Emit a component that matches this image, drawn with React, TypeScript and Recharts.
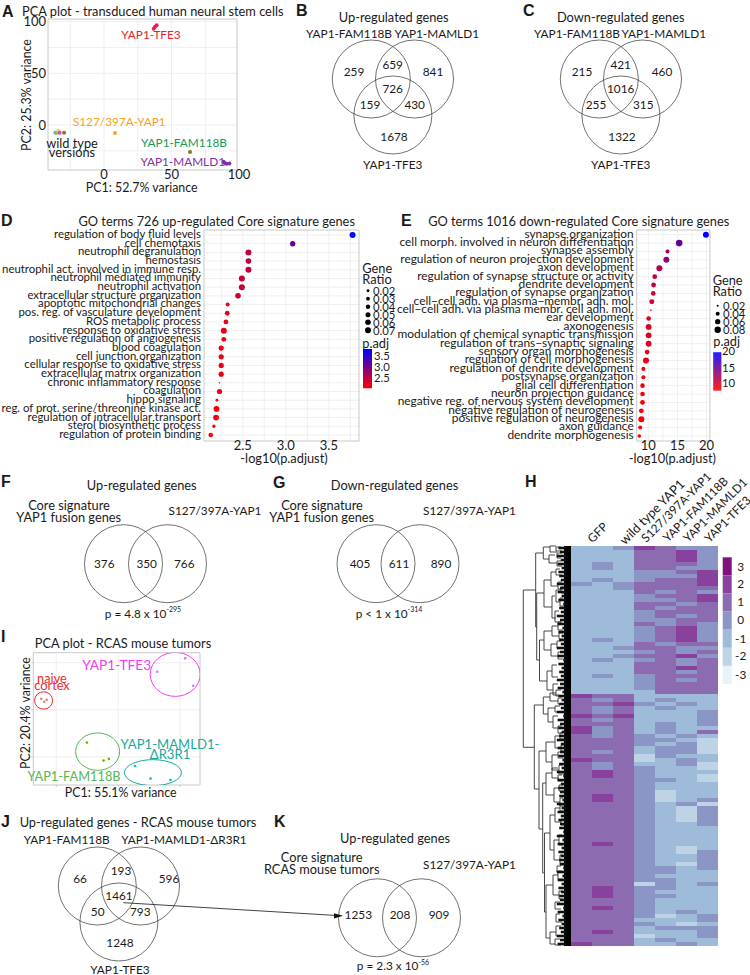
import React from 'react';
import {
  ScatterChart, Scatter, BarChart, Bar, Cell, XAxis, YAxis, ZAxis, CartesianGrid,
  ReferenceArea, ReferenceDot, ReferenceLine,
} from 'recharts';

const FONT = 'Lato, "Open Sans", sans-serif';
const BOLD = '"Liberation Sans", Arial, sans-serif';
const INK = '#1a1a1a';

/* ---------- Panel A ---------- */
const aGroups = [
  { name: 'YAP1-TFE3', color: '#ee1c4e', pc1: [36.8, 37.8, 39], pc2: [93, 95, 96.5] },
  { name: 'S127/397A-YAP1', color: '#f9a11b', pc1: [8.1], pc2: [-7.7] },
  { name: 'GFP', color: '#4fb3bf', pc1: [-36], pc2: [-7.5] },
  { name: 'wild type a', color: '#8bc34a', pc1: [-35], pc2: [-7.5] },
  { name: 'wild type b', color: '#d7e04a', pc1: [-34], pc2: [-5.5] },
  { name: 'wild type c', color: '#e646c8', pc1: [-32.9], pc2: [-7.5] },
  { name: 'wild type d', color: '#a5683a', pc1: [-29.6], pc2: [-7.5] },
  { name: 'YAP1-FAM118B', color: '#7a7a1a', pc1: [63.7], pc2: [-26.1] },
  { name: 'YAP1-MAMLD1', color: '#7f2fa8', pc1: [88.6, 89.6, 90.8, 92.8], pc2: [-35.5, -37, -37.5, -37.3] },
];

/* ---------- Panel D ---------- */
const dTerms = [
  'regulation of body fluid levels', 'cell chemotaxis', 'neutrophil degranulation', 'hemostasis',
  'neutrophil act. involved in immune resp.', 'neutrophil mediated immunity', 'neutrophil activation',
  'extracellular structure organization', 'apoptotic mitochondrial changes', 'pos. reg. of vasculature development',
  'ROS metabolic process', 'response to oxidative stress', 'positive regulation of angiogenesis', 'blood coagulation',
  'cell junction organization', 'cellular response to oxidative stress', 'extracellular matrix organization',
  'chronic inflammatory response', 'coagulation', 'hippo signaling', 'reg. of prot. serine/threonine kinase act.',
  'regulation of intracellular transport', 'sterol biosynthetic process', 'regulation of protein binding',
];
const dLogP = [3.775, 3.08, 2.566, 2.566, 2.566, 2.49, 2.49, 2.445, 2.325, 2.32, 2.305, 2.28, 2.28, 2.25, 2.25, 2.25, 2.25, 2.23, 2.23, 2.2, 2.195, 2.19, 2.165, 2.128];
const dRatio = [0.07, 0.057, 0.07, 0.061, 0.07, 0.07, 0.07, 0.061, 0.033, 0.046, 0.046, 0.07, 0.046, 0.053, 0.053, 0.053, 0.053, 0.008, 0.053, 0.018, 0.065, 0.065, 0.025, 0.043];

/* ---------- Panel E ---------- */
const eTerms = [
  'synapse organization', 'cell morph. involved in neuron differentiation', 'synapse assembly',
  'regulation of neuron projection development', 'axon development', 'regulation of synapse structure or activity',
  'dendrite development', 'regulation of synapse organization', 'cell\u2212cell adh. via plasma\u2212membr. adh. mol.',
  'cell\u2212cell adh. via plasma membr. cell adh. mol.', 'ear development', 'axonogenesis',
  'modulation of chemical synaptic transmission', 'regulation of trans\u2212synaptic signaling', 'sensory organ morphogenesis',
  'regulation of cell morphogenesis', 'regulation of dendrite development', 'postsynapse organization',
  'glial cell differentiation', 'neuron projection guidance', 'negative reg. of nervous system development',
  'negative regulation of neurogenesis', 'positive regulation of neurogenesis', 'axon guidance', 'dendrite morphogenesis',
];
const eLogP = [19.9, 15.3, 13.3, 13.1, 11.9, 11.1, 10.9, 10.85, 10.6, 10.45, 10.05, 10.05, 10.05, 10.05, 9.8, 9.6, 9.15, 9.15, 9, 9, 9, 8.8, 8.8, 8.6, 8.45];
const eRatio = [0.0725, 0.085, 0.04, 0.0725, 0.0725, 0.051, 0.051, 0.048, 0.054, 0.0177, 0.048, 0.069, 0.069, 0.069, 0.051, 0.0725, 0.04, 0.04, 0.048, 0.048, 0.051, 0.051, 0.0725, 0.04, 0.035];

/* ---------- Panel I ---------- */
const iGroups = [
  { name: 'naive cortex', color: '#f8766d', pc1: [-62.1, -59.7, -57.7], pc2: [11.7, 8.5, 10.6] },
  { name: 'YAP1-TFE3', color: '#c77cff', pc1: [31.5, 54, 60.5], pc2: [40.4, 54.6, 25.5] },
  { name: 'YAP1-FAM118B', color: '#7cae00', pc1: [-25.2, -11.8, -7.5], pc2: [-34.8, -53.9, -52.1] },
  { name: 'YAP1-MAMLD1', color: '#00bfc4', pc1: [13.7, 26.1, 42.2], pc2: [-59.6, -73, -74.5] },
];
const iEllipses = [
  { pc1: -60.2, pc2: 9.9, rx: 9, ry: 8.7, color: '#ee2a2a' },
  { pc1: 46, pc2: 37.6, rx: 25, ry: 22, color: '#f53cf0' },
  { pc1: -16.6, pc2: -44.4, rx: 22, ry: 18.7, color: '#55b84f' },
  { pc1: 28, pc2: -66.7, rx: 28.5, ry: 13, color: '#1aa89e' },
];

/* ---------- Venn counts ---------- */
const bCounts = ['259', '659', '841', '726', '159', '430', '1678'];
const cCounts = ['215', '421', '460', '1016', '255', '315', '1322'];
const jCounts = ['66', '193', '596', '1461', '50', '793', '1248'];
const fCounts = ['376', '350', '766'];
const gCounts = ['405', '611', '890'];
const kCounts = ['1253', '208', '909'];

/* ---------- Panel H ---------- */
const hColumns = ['GFP 1', 'GFP 2', 'GFP 3', 'S127/397A-YAP1', 'YAP1-FAM118B', 'YAP1-MAMLD1', 'YAP1-TFE3'];
const hRows = [
  'bbcedcc', 'bbbddec', 'bbbddec', 'bbbddec', 'bcbdddc', 'bcbddcc', 'bbbccde', 'bbbccce', 'bcbcdde', 'cbcddde',
  'bbcdddd', 'bbbdcdc', 'bbbcdde', 'bbbccde', 'bbbddcd', 'bbbdcdd', 'bbbcddd', 'bbbcdcd', 'bbbccdd', 'bbbdcdc',
  'bbbcdec', 'bbbcdec', 'bbbcdec', 'bcbcdec', 'bbbdcdd', 'bbcddcc', 'bbbcdcd', 'bbcddec', 'bcbcdcd', 'bbbddcd',
  'bbbdded', 'bbbddcd', 'bcbcddd', 'bbbcdcd', 'bbbcddd', 'bbbcddd', 'bbbbddd', 'eddbbbb', 'dcdbcbb', 'ddecbcb',
  'dcdbcbb', 'dcdbbbc', 'edebbbc', 'dcdbbbc', 'dddbcbc', 'ecdbcbb', 'ecdbcbd', 'dcdcbcb', 'dddccba', 'dddcbca',
  'dddbcca', 'dcdbcca', 'dddacbb', 'eddabcb', 'dcdbbca', 'dcdcbba', 'dedcbbb', 'dedcbba', 'dddccba', 'dddcbbb',
  'dddcbbb', 'dddcabb', 'dedcabb', 'dedcabc', 'dddcbca', 'dddcbac', 'dddcbac', 'dddcbac', 'dddcbac', 'dddcbbc',
  'dddcbbb', 'dddcbbb', 'dddcbbb', 'dddcbbb', 'dedcbbb', 'dddcbab', 'dddcbac', 'dddcbbc', 'dddcbbc', 'dddcbac',
  'dddccbc', 'dddccbb', 'dddcbbb', 'dddccbb', 'dddacbc', 'dedccbb', 'dedcbbb', 'dedccbb', 'dddcbbb', 'dddcbbb',
  'dedcbbb', 'dddcbcb', 'dddcabc', 'dddbbbc', 'dddcbab', 'dddbccc', 'dedbbbc', 'dddabbc', 'dddbcbb', 'eddbbcb',
];
const hLevels: Record<string, string> = { a: '#bfd3e6', b: '#9ebcda', c: '#8c96c6', d: '#8c6bb1', e: '#88419d' };
const hLegendValues = ['3', '2', '1', '0', '-1', '-2', '-3'];
const hLegendColors = ['#810f7c', '#88419d', '#8c6bb1', '#8c96c6', '#9ebcda', '#bfd3e6', '#e8f4f8'];
const hData = hColumns.map((col) => {
  const row: Record<string, any> = { col };
  hRows.forEach((_, i) => { row['r' + i] = 1; });
  return row;
});

/* dendrogram brackets: trunk, first join, second join, first child, second child */
const dendro = [
  [523.3, 590, 747.3, 535.7, 534.3],
  [535.7, 553, 627, 543.3, 536.7],
  [543.3, 547, 559, 550, 549],
  [550, 546, 552, 556, 557],
  [549, 555, 563, 555, 557],
  [536.7, 593, 660, 544, 539.5],
  [544, 580, 607, 551, 552],
  [551, 572, 586, 556, 558],
  [552, 596, 618, 555, 556],
  [556, 590, 602, 561, 560],
  [539.5, 640, 681, 544, 547],
  [544, 631, 650, 552, 551],
  [552, 626, 636, 558, 559],
  [551, 644, 656, 557, 558],
  [547, 671, 690, 552, 553],
  [534.3, 705, 789, 543.3, 539],
  [543.3, 697, 714, 550, 548],
  [550, 693, 701, 556, 558],
  [548, 708, 722, 555, 553],
  [539, 751, 829, 546, 542.7],
  [546, 742, 762, 555, 552],
  [555, 736, 748, 560, 561],
  [552, 755, 770, 558, 559],
  [542.7, 783, 873, 546, 544.5],
  [546, 773, 795, 552, 554],
  [552, 768, 778, 558, 559],
  [554, 788, 802, 559, 560],
  [544.5, 833, 912, 550, 546],
  [550, 815, 850, 555, 554],
  [555, 808, 822, 560, 561],
  [554, 840, 860, 559, 560],
  [546, 885, 938, 553, 550],
  [553, 875, 895, 558, 559],
  [550, 932, 944, 556, 555],
  [556, 547, 551, 561, 562], [557, 553, 558, 562, 561], [557, 561, 566, 561, 562], [556, 569, 575, 560, 562],
  [558, 582, 589, 562, 563], [561, 587, 593, 564, 564], [560, 598, 606, 563, 564], [555, 611, 622, 559, 561],
  [558, 622, 630, 562, 563], [559, 633, 639, 563, 563], [557, 641, 648, 561, 562], [558, 652, 659, 562, 563],
  [552, 665, 677, 557, 558], [553, 684, 695, 558, 559], [556, 690, 696, 561, 562], [558, 698, 704, 562, 563],
  [555, 706, 712, 560, 561], [553, 716, 728, 558, 559], [558, 726, 733, 562, 563], [560, 733, 739, 563, 564],
  [561, 745, 751, 564, 564], [558, 752, 758, 562, 563], [559, 765, 774, 563, 564], [558, 775, 781, 562, 563],
  [559, 785, 791, 563, 564], [560, 798, 806, 563, 564], [560, 804, 811, 563, 564], [561, 819, 825, 564, 564],
  [559, 835, 845, 562, 563], [560, 855, 865, 563, 564], [557, 866, 872, 561, 562], [558, 871, 879, 562, 563],
  [559, 891, 899, 563, 563], [555, 902, 909, 560, 561], [556, 914, 922, 560, 562], [556, 926, 936, 561, 562],
  [555, 939, 945, 560, 561],
];
const leafStarts = '3516273461527394615283746152937461528374619253741625384719263548172635491827364591827364519283746152';

/* ---------- colour scales ---------- */
const redBlue = (t: number) => {
  const c = Math.max(0, Math.min(1, t));
  return `rgb(${Math.round(255 * (1 - c))},0,${Math.round(255 * c)})`;
};

/* ---------- positions of text on the page ---------- */
type L = { t: string; x: number; y: number; s?: number; c?: string; a?: string; r?: number; b?: boolean; sup?: string };
const labels: L[] = [
  { t: 'A', x: 2, y: 11, s: 16, b: true, a: 'start' },
  { t: 'B', x: 296, y: 10, s: 16, b: true, a: 'start' },
  { t: 'C', x: 523, y: 10, s: 16, b: true, a: 'start' },
  { t: 'D', x: 1, y: 220.7, s: 16, b: true, a: 'start' },
  { t: 'E', x: 401, y: 220.7, s: 16, b: true, a: 'start' },
  { t: 'F', x: 1, y: 481.7, s: 16, b: true, a: 'start' },
  { t: 'G', x: 273, y: 482, s: 16, b: true, a: 'start' },
  { t: 'H', x: 525, y: 481.7, s: 16, b: true, a: 'start' },
  { t: 'I', x: 1, y: 636.7, s: 16, b: true, a: 'start' },
  { t: 'J', x: 1, y: 821.7, s: 16, b: true, a: 'start' },
  { t: 'K', x: 274, y: 821.7, s: 16, b: true, a: 'start' },

  { t: 'PCA plot - transduced human neural stem cells', x: 22, y: 11, a: 'start' },
  { t: 'YAP1-TFE3', x: 151, y: 34.3, c: '#ee1c2e' },
  { t: 'S127/397A-YAP1', x: 119.3, y: 121.7, c: '#f9a11b' },
  { t: 'wild type', x: 72, y: 143 },
  { t: 'versions', x: 72, y: 152.3 },
  { t: 'YAP1-FAM118B', x: 184, y: 142.7, c: '#0f9d58' },
  { t: 'YAP1-MAMLD1', x: 182.7, y: 161.7, c: '#7f2fa8' },
  { t: 'PC1: 52.7% variance', x: 141.7, y: 187.3 },
  { t: 'PC2: 25.3% variance', x: 26, y: 95, r: -90 },

  { t: 'Up-regulated genes', x: 393.7, y: 16.7 },
  { t: 'YAP1-FAM118B', x: 349, y: 33 },
  { t: 'YAP1-MAMLD1', x: 436.7, y: 33 },
  { t: 'YAP1-TFE3', x: 392.7, y: 164 },
  { t: 'Down-regulated genes', x: 620.7, y: 17 },
  { t: 'YAP1-FAM118B', x: 577, y: 33 },
  { t: 'YAP1-MAMLD1', x: 663.7, y: 33 },
  { t: 'YAP1-TFE3', x: 620.7, y: 164 },

  { t: 'GO terms 726 up-regulated Core signature genes', x: 216.7, y: 220.7 },
  { t: '-log10(p.adjust)', x: 284, y: 457.7 },
  { t: 'Gene', x: 362.3, y: 268.3, a: 'start' },
  { t: 'Ratio', x: 362.3, y: 279, a: 'start' },
  { t: '0.02', x: 373, y: 290.7, a: 'start' },
  { t: '0.03', x: 373, y: 298.7, a: 'start' },
  { t: '0.04', x: 373, y: 306.7, a: 'start' },
  { t: '0.05', x: 373, y: 314.7, a: 'start' },
  { t: '0.06', x: 373, y: 322.3, a: 'start' },
  { t: '0.07', x: 373, y: 330.3, a: 'start' },
  { t: 'p.adj', x: 362.3, y: 343, a: 'start' },
  { t: '3.5', x: 374, y: 355, a: 'start' },
  { t: '3.0', x: 374, y: 366, a: 'start' },
  { t: '2.5', x: 374, y: 377, a: 'start' },

  { t: 'GO terms 1016 down-regulated Core signature genes', x: 578.7, y: 220.7 },
  { t: '-log10(p.adjust)', x: 672.3, y: 457.7 },
  { t: 'Gene', x: 712.7, y: 280.3, a: 'start' },
  { t: 'Ratio', x: 712.7, y: 291, a: 'start' },
  { t: '0.02', x: 723, y: 305.7, a: 'start' },
  { t: '0.04', x: 723, y: 313.7, a: 'start' },
  { t: '0.06', x: 723, y: 321.7, a: 'start' },
  { t: '0.08', x: 723, y: 329.7, a: 'start' },
  { t: 'p.adj', x: 713.3, y: 340.7, a: 'start' },
  { t: '20', x: 722, y: 350.7, a: 'start' },
  { t: '15', x: 722, y: 367, a: 'start' },
  { t: '10', x: 722, y: 382.3, a: 'start' },

  { t: 'Up-regulated genes', x: 141.7, y: 485.3 },
  { t: 'Core signature', x: 69, y: 505 },
  { t: 'YAP1 fusion genes', x: 68.7, y: 517 },
  { t: 'S127/397A-YAP1', x: 215, y: 510.7 },
  { t: 'p = 4.8 x 10', x: 143, y: 613.3, sup: '-295' },
  { t: 'Down-regulated genes', x: 394.5, y: 485.3 },
  { t: 'Core signature', x: 322, y: 505 },
  { t: 'YAP1 fusion genes', x: 321.7, y: 517 },
  { t: 'S127/397A-YAP1', x: 469.5, y: 510.7 },
  { t: 'p < 1 x 10', x: 389, y: 613.3, sup: '-314' },

  { t: 'GFP', x: 597.3, y: 532.3, r: -45 },
  { t: 'wild type YAP1', x: 651.7, y: 511.7, r: -45 },
  { t: 'S127/397A-YAP1', x: 676, y: 507, r: -45 },
  { t: 'YAP1-FAM118B', x: 695.3, y: 509.3, r: -45 },
  { t: 'YAP1-MAMLD1', x: 715, y: 510, r: -45 },
  { t: 'YAP1-TFE3', x: 727.3, y: 519, r: -45 },

  { t: 'PCA plot - RCAS mouse tumors', x: 123, y: 642.7 },
  { t: 'YAP1-TFE3', x: 116.7, y: 664.3, c: '#f53cf0', s: 13.7 },
  { t: 'naive', x: 52, y: 678, c: '#ee2a2a' },
  { t: 'cortex', x: 52, y: 685.3, c: '#ee2a2a' },
  { t: 'YAP1-MAMLD1-', x: 170, y: 744.3, c: '#1aa89e', s: 13.1 },
  { t: '\u0394R3R1', x: 170, y: 754, c: '#1aa89e', s: 13.1 },
  { t: 'YAP1-FAM118B', x: 74, y: 775.7, c: '#55b84f', s: 12.8 },
  { t: 'PC1: 55.1% variance', x: 120.7, y: 792.3 },
  { t: 'PC2: 20.4% variance', x: 25, y: 713, r: -90 },

  { t: 'Up-regulated genes - RCAS mouse tumors', x: 138, y: 822.3 },
  { t: 'YAP1-FAM118B', x: 66.7, y: 839.3 },
  { t: 'YAP1-MAMLD1-\u0394R3R1', x: 184, y: 839.3 },
  { t: 'YAP1-TFE3', x: 120, y: 969 },
  { t: 'Up-regulated genes', x: 395, y: 838.3 },
  { t: 'Core signature', x: 321.7, y: 857.3 },
  { t: 'RCAS mouse tumors', x: 321.7, y: 869 },
  { t: 'S127/397A-YAP1', x: 469.5, y: 864 },
  { t: 'p = 2.3 x 10', x: 393, y: 965.7, sup: '-56' },
];

const venn3 = (base: number[], counts: string[], off: number[][]) => ({
  circles: [[base[0], base[1]], [base[0] + 43.2, base[1]], [base[0] + 21.6, base[1] + 36]],
  texts: counts.map((t, i) => ({ t, x: base[0] + off[i][0], y: base[1] + off[i][1] })),
});
const venn2 = (base: number[], counts: string[], off: number[], dy: number) => ({
  circles: [[base[0], base[1]], [base[0] + 44, base[1]]],
  texts: counts.map((t, i) => ({ t, x: base[0] + off[i], y: base[1] + dy })),
});
const offB = [[-17.3, -7.3], [21.4, -14.7], [61.7, -7.3], [21.4, 9], [-1.3, 25.7], [43.4, 25.7], [22.7, 57.3]];
const offC = [[-17.3, -7.3], [21.4, -15], [62.7, -8], [21.4, 9], [-3.3, 25.7], [44, 25.7], [22.7, 57]];
const offJ = [[-17.3, -7.7], [23.7, -15.3], [71.7, -8], [21.7, 9], [0.4, 25], [43, 25], [22.7, 56.7]];
const venns = [
  venn3([371.3, 79], bCounts, offB),
  venn3([599.3, 79], cCounts, offC),
  venn3([97.3, 886], jCounts, offJ),
  venn2([123.5, 563.7], fCounts, [-19.2, 23.2, 60.8], 0),
  venn2([376, 563.7], gCounts, [-16, 23, 65], 0),
  venn2([377.5, 917.8], kCounts, [-19.2, 22.5, 61.5], -3),
];
const vennCircles = venns.flatMap((v) => v.circles);
const vennTexts = venns.flatMap((v) => v.texts);

const dLegend = [0.02, 0.03, 0.04, 0.05, 0.06, 0.07].map((ratio, i) => ({ ratio, x: 368, y: [290.7, 298.7, 306.7, 314.7, 322.3, 330.3][i] }));
const eLegend = [0.02, 0.04, 0.06, 0.08].map((ratio, i) => ({ ratio, x: 717.7, y: [305.7, 313.7, 321.7, 329.7][i] }));

const sizeFor = (t: string) => {
  if (/^[\d.]+$/.test(t)) return 11.3;
  if (/^PC\d/.test(t)) return 12.4;
  if (/[a-z]{3}/.test(t)) return 12.8;
  return 11.8;
};

const TextShape = (p: any) => {
  const d = p.payload as L;
  const s = d.s ?? sizeFor(d.t);
  return (
    <text
      x={p.cx}
      y={p.cy}
      fontSize={s}
      fontFamily={d.b ? BOLD : FONT}
      fontWeight={d.b ? 700 : 400}
      fill={d.c ?? INK}
      textAnchor={(d.a as any) ?? 'middle'}
      dominantBaseline="central"
      transform={d.r ? `rotate(${d.r} ${p.cx} ${p.cy})` : undefined}
    >
      {d.t}
      {d.sup ? <tspan dy={-4} fontSize={7}>{d.sup}</tspan> : null}
    </text>
  );
};

const CountShape = (p: any) => (
  <text x={p.cx} y={p.cy} fontSize={11.8} fontFamily={FONT} fill={INK} textAnchor="middle" dominantBaseline="central">{p.payload.t}</text>
);

const Arrow = (p: any) => (
  <polygon points={`${p.cx},${p.cy} ${p.cx - 9},${p.cy - 2.6} ${p.cx - 9},${p.cy + 2.6}`} fill="#111" />
);

const EllipseShape = (p: any) => (
  <ellipse cx={p.cx} cy={p.cy} rx={p.payload.rx} ry={p.payload.ry} fill="none" stroke={p.payload.color} strokeWidth={1} />
);

const abs = (left: number, top: number): React.CSSProperties => ({ position: 'absolute', left, top });
const GRID = '#efefef';
const FRAME = '#c8c8c8';

function PanelA() {
  const xd: [number, number] = [-41.5, 98.5];
  const yd: [number, number] = [-43.5, 102.5];
  return (
    <div style={abs(0, 0)}>
      <ScatterChart width={260} height={200} margin={{ top: 19, left: 0, right: 23, bottom: 0 }}>
        <CartesianGrid stroke={GRID} horizontalValues={[-25, 0, 25, 50, 75, 100]} verticalValues={[-25, 0, 25, 50, 75]} />
        <XAxis type="number" dataKey="pc1" domain={xd} ticks={[0, 50, 100]} allowDataOverflow height={30} axisLine={false} tickLine={false} tickSize={0} tickMargin={0}
          tick={{ fontSize: 13, fontFamily: FONT, fill: INK }} interval={0} />
        <YAxis type="number" dataKey="pc2" domain={yd} ticks={[0, 50, 100]} allowDataOverflow width={48} axisLine={false} tickLine={false} tickSize={0} tickMargin={2}
          tick={{ fontSize: 13, fontFamily: FONT, fill: INK }} interval={0} />
        <ReferenceArea x1={xd[0]} x2={xd[1]} y1={yd[0]} y2={yd[1]} fill="none" stroke={FRAME} strokeWidth={1} fillOpacity={0} strokeOpacity={1} />
        {aGroups.map((g) => (
          <Scatter key={g.name} name={g.name} isAnimationActive={false} fill={g.color}
            data={g.pc1.map((pc1, i) => ({ pc1, pc2: g.pc2[i] }))}
            shape={(p: any) => <circle cx={p.cx} cy={p.cy} r={2} fill={g.color} />} />
        ))}
      </ScatterChart>
    </div>
  );
}

function DotPlot({ left, width, yWidth, terms, logp, ratio, xd, yd, xticks, minor, zd, zr, colorMin, colorMax, fmt, fontSize }: any) {
  const data = terms.map((term: string, i: number) => ({ term, row: i, logp: logp[i], ratio: ratio[i] }));
  const rows = terms.map((_: string, i: number) => i);
  const termTick = (p: any) => (
    <text x={p.x} y={p.y - 1.6} textAnchor="end" dominantBaseline="central" fontSize={fontSize} fontFamily={FONT} fill={INK}>
      {terms[p.payload.value]}
    </text>
  );
  return (
    <div style={abs(left, 225)}>
      <ScatterChart width={width} height={240} margin={{ top: 5, left: 0, right: 20, bottom: 0 }}>
        <CartesianGrid stroke={GRID} horizontalValues={rows} verticalValues={minor} />
        <XAxis type="number" dataKey="logp" domain={xd} ticks={xticks} allowDataOverflow height={24} axisLine={false} tickLine={false} tickSize={0} tickMargin={0} interval={0}
          tickFormatter={fmt} tick={{ fontSize: 13, fontFamily: FONT, fill: INK }} />
        <YAxis type="number" dataKey="row" reversed domain={yd} ticks={rows} allowDataOverflow width={yWidth} axisLine={false} tickLine={false} tickSize={0} tickMargin={3} interval={0}
          tick={termTick} />
        <ZAxis type="number" dataKey="ratio" domain={zd} range={zr} />
        <ReferenceArea x1={xd[0]} x2={xd[1]} y1={yd[0]} y2={yd[1]} fill="none" stroke={FRAME} strokeWidth={1} fillOpacity={0} strokeOpacity={1} />
        <Scatter data={data} isAnimationActive={false}>
          {data.map((d: any) => (
            <Cell key={d.term} fill={redBlue((d.logp - colorMin) / (colorMax - colorMin))} />
          ))}
        </Scatter>
      </ScatterChart>
    </div>
  );
}

function PanelI() {
  const xd: [number, number] = [-68.5, 66];
  const yd: [number, number] = [-79.8, 60.6];
  return (
    <div style={abs(0, 640)}>
      <ScatterChart width={230} height={170} margin={{ top: 12.7, left: 0, right: 30, bottom: 0 }}>
        <CartesianGrid stroke={GRID} horizontalValues={[-50, 0, 50]} verticalValues={[-50, 0, 50]} />
        <XAxis type="number" dataKey="pc1" domain={xd} ticks={[-50, 0, 50]} allowDataOverflow height={25} axisLine={false} tickSize={2} tickLine={{ stroke: FRAME }} tickFormatter={() => ''} />
        <YAxis type="number" dataKey="pc2" domain={yd} ticks={[-50, 0, 50]} allowDataOverflow width={33.3} axisLine={false} tickSize={2} tickLine={{ stroke: FRAME }} tickFormatter={() => ''} />
        <ReferenceArea x1={xd[0]} x2={xd[1]} y1={yd[0]} y2={yd[1]} fill="none" stroke={FRAME} strokeWidth={1} fillOpacity={0} strokeOpacity={1} />
        {iGroups.map((g) => (
          <Scatter key={g.name} name={g.name} isAnimationActive={false}
            data={g.pc1.map((pc1, i) => ({ pc1, pc2: g.pc2[i] }))}
            shape={(p: any) => <circle cx={p.cx} cy={p.cy} r={1.3} fill={g.color} />} />
        ))}
        <Scatter data={iEllipses} isAnimationActive={false} shape={EllipseShape} />
      </ScatterChart>
    </div>
  );
}

function Heatmap() {
  return (
    <div style={abs(571, 546)}>
      <BarChart width={147} height={400} data={hData} margin={{ top: 0, left: 0, right: 0, bottom: 0 }} barCategoryGap={0}>
        <XAxis dataKey="col" hide />
        <YAxis type="number" hide reversed domain={[0, hRows.length]} />
        {hRows.map((row, i) => (
          <Bar key={i} dataKey={'r' + i} stackId="heat" isAnimationActive={false} stroke="none">
            {hColumns.map((c, j) => <Cell key={c} fill={hLevels[row[j]]} />)}
          </Bar>
        ))}
      </BarChart>
    </div>
  );
}

const barBands = (x1: number, x2: number, y1: number, y2: number) => {
  const n = Math.round(y2 - y1);
  return Array.from({ length: n }, (_, i) => (
    <ReferenceArea key={`${x1}-${i}`} x1={x1} x2={x2} y1={y1 + i} y2={y1 + i + 1.3}
      fill={redBlue(1 - i / (n - 1))} fillOpacity={1} stroke="none" />
  ));
};

function Overlay() {
  const seg = dendro.flatMap(([x, y1, y2, c1, c2]) => [
    [x, y1, x, y2], [x, y1, c1, y1], [x, y2, c2, y2],
  ]);
  const leaves = hRows.map((_, i) => [556 + Number(leafStarts[i]) * 0.8, 548 + 4 * i, 566, 548 + 4 * i]);
  return (
    <div style={abs(0, 0)}>
      <ScatterChart width={750} height={975} margin={{ top: 0, left: 0, right: 0, bottom: 0 }}>
        <XAxis type="number" dataKey="x" domain={[0, 750]} hide allowDataOverflow />
        <YAxis type="number" dataKey="y" domain={[0, 975]} reversed hide allowDataOverflow />
        <ZAxis zAxisId="d" type="number" dataKey="ratio" domain={[0.0035, 0.08]} range={[0, 32.6]} />
        <ZAxis zAxisId="e" type="number" dataKey="ratio" domain={[0.0135, 0.09]} range={[0, 36.7]} />

        {vennCircles.map(([x, y], i) => (
          <ReferenceDot key={'c' + i} x={x} y={y} r={39} fill="none" stroke="#333" strokeWidth={0.7} />
        ))}

        <ReferenceLine segment={[{ x: 123.3, y: 902.7 }, { x: 335, y: 915.4 }]} stroke="#111" strokeWidth={0.8} />

        {seg.map(([a, b, c, d], i) => (
          <ReferenceLine key={'s' + i} segment={[{ x: a, y: b }, { x: c, y: d }]} stroke="#333" strokeWidth={0.9} />
        ))}
        {leaves.map(([a, b, c, d], i) => (
          <ReferenceLine key={'l' + i} segment={[{ x: a, y: b }, { x: c, y: d }]} stroke="#111" strokeWidth={2.6} />
        ))}
        <ReferenceArea x1={564} x2={571} y1={546} y2={946} fill="#000" fillOpacity={1} stroke="none" />

        {hLegendColors.map((c, i) => (
          <ReferenceArea key={'hl' + i} x1={722.7} x2={731.7} y1={557.3 + 18.1 * i} y2={557.3 + 18.1 * (i + 1)} fill={c} fillOpacity={1} stroke="none" />
        ))}
        {barBands(363, 372, 349, 388)}
        {barBands(713.3, 721.3, 352.3, 390.3)}

        <Scatter data={dLegend} zAxisId="d" fill="#000" isAnimationActive={false} />
        <Scatter data={eLegend} zAxisId="e" fill="#000" isAnimationActive={false} />
        <Scatter data={[{ x: 343, y: 915.8 }]} isAnimationActive={false} shape={Arrow} />
        <Scatter data={labels} isAnimationActive={false} shape={TextShape} />
        <Scatter data={vennTexts} isAnimationActive={false} shape={CountShape} />
        <Scatter
          data={hLegendValues.map((t, i) => ({ t, x: 740.7, y: [566, 583.3, 601.7, 619.3, 638.3, 655.7, 674][i] }))}
          isAnimationActive={false} shape={CountShape} />
      </ScatterChart>
    </div>
  );
}

export default function App() {
  return (
    <div style={{ position: 'absolute', left: 0, top: 0, width: 750, height: 975, background: '#fff', overflow: 'hidden' }}>
      <PanelA />
      <DotPlot left={0} width={379} yWidth={204} terms={dTerms} logp={dLogP} ratio={dRatio}
        xd={[2.05, 3.85]} yd={[-0.575, 23.69]} xticks={[2.5, 3, 3.5]} minor={[2.25, 2.5, 2.75, 3, 3.25, 3.5, 3.75]}
        zd={[0.0035, 0.08]} zr={[0, 32.6]} colorMin={2.128} colorMax={3.775} fmt={(v: number) => v.toFixed(1)} fontSize={11.4} />
      <DotPlot left={380} width={350} yWidth={256.7} terms={eTerms} logp={eLogP} ratio={eRatio}
        xd={[8, 20.6]} yd={[-0.56, 24.6]} xticks={[10, 15, 20]} minor={[10, 12.5, 15, 17.5, 20]}
        zd={[0.0135, 0.09]} zr={[0, 36.7]} colorMin={8.45} colorMax={19.9} fmt={(v: number) => String(v)} fontSize={11.9} />
      <PanelI />
      <Heatmap />
      <Overlay />
    </div>
  );
}
